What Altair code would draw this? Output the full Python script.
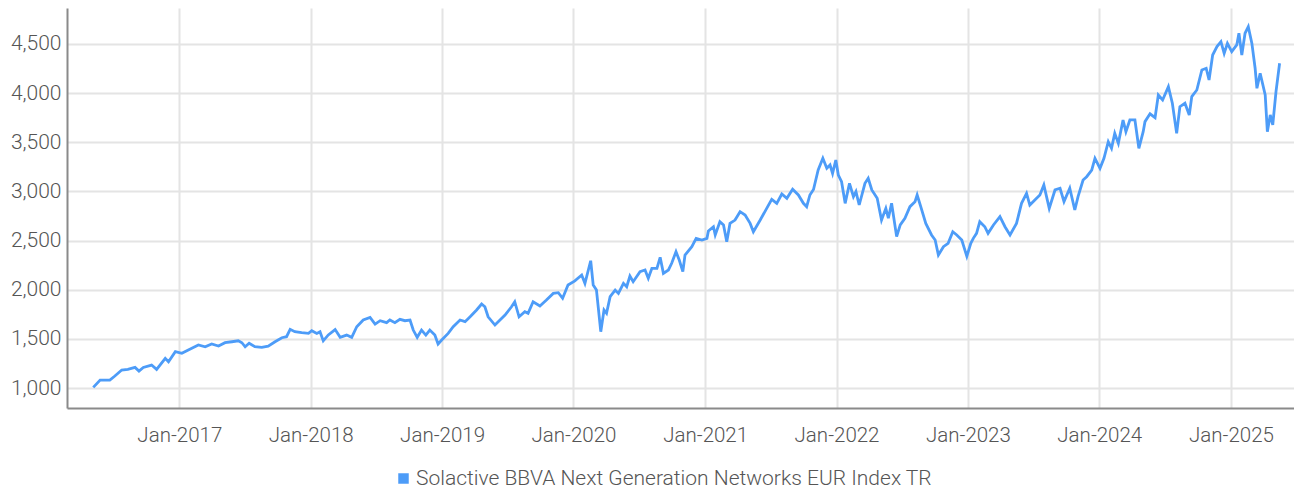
import altair as alt
import pandas as pd
from datetime import datetime, timedelta

SERIES = "Solactive BBVA Next Generation Networks EUR Index TR"

# time as decimal years
years = [
    2016.348, 2016.399, 2016.475, 2016.513, 2016.564, 2016.612, 2016.665, 2016.696, 2016.728, 2016.792,
    2016.830, 2016.894, 2016.919, 2016.970, 2017.021, 2017.071, 2017.147, 2017.198, 2017.249, 2017.299,
    2017.350, 2017.401, 2017.451, 2017.477, 2017.502, 2017.532, 2017.578, 2017.629, 2017.679, 2017.730,
    2017.781, 2017.819, 2017.844, 2017.882, 2017.933, 2017.984, 2018.009, 2018.047, 2018.073, 2018.098,
    2018.136, 2018.187, 2018.225, 2018.276, 2018.314, 2018.352, 2018.402, 2018.453, 2018.491, 2018.529,
    2018.580, 2018.605, 2018.643, 2018.681, 2018.719, 2018.757, 2018.782, 2018.813, 2018.846, 2018.879,
    2018.909, 2018.947, 2018.972, 2018.998, 2019.049, 2019.087, 2019.138, 2019.176, 2019.214, 2019.265,
    2019.303, 2019.328, 2019.353, 2019.404, 2019.442, 2019.480, 2019.531, 2019.556, 2019.589, 2019.632,
    2019.657, 2019.695, 2019.746, 2019.797, 2019.847, 2019.885, 2019.919, 2019.961, 2020.012, 2020.063,
    2020.088, 2020.132, 2020.152, 2020.177, 2020.208, 2020.233, 2020.253, 2020.279, 2020.317, 2020.342,
    2020.380, 2020.406, 2020.431, 2020.456, 2020.507, 2020.545, 2020.570, 2020.596, 2020.634, 2020.659,
    2020.684, 2020.722, 2020.748, 2020.781, 2020.806, 2020.832, 2020.849, 2020.900, 2020.933, 2020.976,
    2021.014, 2021.026, 2021.064, 2021.077, 2021.115, 2021.140, 2021.166, 2021.191, 2021.229, 2021.267,
    2021.306, 2021.344, 2021.369, 2021.420, 2021.471, 2021.509, 2021.547, 2021.585, 2021.623, 2021.668,
    2021.711, 2021.749, 2021.775, 2021.800, 2021.827, 2021.863, 2021.897, 2021.927, 2021.952, 2021.970,
    2021.996, 2022.015, 2022.041, 2022.066, 2022.099, 2022.129, 2022.150, 2022.175, 2022.218, 2022.243,
    2022.269, 2022.312, 2022.345, 2022.378, 2022.396, 2022.421, 2022.459, 2022.485, 2022.523, 2022.561,
    2022.599, 2022.616, 2022.642, 2022.682, 2022.726, 2022.751, 2022.776, 2022.814, 2022.852, 2022.885,
    2022.916, 2022.954, 2022.992, 2023.022, 2023.042, 2023.068, 2023.093, 2023.131, 2023.156, 2023.195,
    2023.245, 2023.283, 2023.321, 2023.372, 2023.410, 2023.448, 2023.473, 2023.512, 2023.550, 2023.580,
    2023.620, 2023.664, 2023.702, 2023.732, 2023.778, 2023.816, 2023.841, 2023.879, 2023.905, 2023.943,
    2023.968, 2024.006, 2024.036, 2024.069, 2024.095, 2024.120, 2024.145, 2024.183, 2024.204, 2024.234,
    2024.272, 2024.303, 2024.335, 2024.348, 2024.386, 2024.424, 2024.450, 2024.483, 2024.526, 2024.556,
    2024.589, 2024.614, 2024.653, 2024.685, 2024.703, 2024.742, 2024.780, 2024.812, 2024.835, 2024.863,
    2024.894, 2024.924, 2024.949, 2024.974, 2025.008, 2025.046, 2025.063, 2025.084, 2025.109, 2025.134,
    2025.160, 2025.185, 2025.198, 2025.223, 2025.261, 2025.279, 2025.299, 2025.320, 2025.345, 2025.370,
]

index_values = [
    1007, 1081, 1081, 1122, 1183, 1190, 1210, 1173, 1210, 1234,
    1190, 1302, 1268, 1370, 1353, 1387, 1438, 1420, 1448, 1427,
    1461, 1471, 1481, 1461, 1420, 1455, 1420, 1414, 1427, 1471,
    1512, 1522, 1597, 1573, 1563, 1556, 1583, 1556, 1573, 1480,
    1540, 1595, 1516, 1539, 1516, 1624, 1692, 1719, 1651, 1685,
    1665, 1692, 1665, 1699, 1685, 1692, 1590, 1516, 1590, 1539,
    1590, 1539, 1448, 1488, 1556, 1624, 1692, 1675, 1725, 1794,
    1855, 1827, 1725, 1641, 1692, 1743, 1827, 1878, 1725, 1776,
    1760, 1878, 1834, 1895, 1963, 1970, 1913, 2048, 2090, 2150,
    2065, 2295, 2048, 1997, 1573, 1794, 1760, 1929, 1997, 1963,
    2065, 2031, 2140, 2082, 2184, 2201, 2116, 2218, 2218, 2330,
    2167, 2201, 2269, 2387, 2302, 2184, 2353, 2438, 2523, 2506,
    2523, 2597, 2641, 2557, 2692, 2659, 2489, 2675, 2709, 2794,
    2760, 2675, 2590, 2709, 2828, 2920, 2879, 2974, 2930, 3022,
    2964, 2879, 2845, 2964, 3020, 3218, 3337, 3235, 3269, 3184,
    3320, 3167, 3099, 2879, 3083, 2947, 2998, 2862, 3083, 3134,
    3015, 2930, 2709, 2828, 2727, 2879, 2540, 2659, 2727, 2845,
    2896, 2964, 2845, 2675, 2557, 2506, 2353, 2438, 2472, 2590,
    2557, 2506, 2340, 2472, 2523, 2574, 2692, 2641, 2574, 2659,
    2743, 2641, 2557, 2675, 2879, 2981, 2862, 2913, 2964, 3066,
    2828, 3015, 3032, 2896, 3032, 2811, 2947, 3116, 3150, 3218,
    3337, 3235, 3337, 3506, 3439, 3591, 3489, 3727, 3608, 3727,
    3727, 3439, 3608, 3710, 3790, 3750, 3981, 3930, 4066, 3897,
    3591, 3862, 3897, 3778, 3964, 4032, 4236, 4253, 4134, 4388,
    4473, 4523, 4405, 4506, 4422, 4490, 4609, 4388, 4609, 4676,
    4506, 4253, 4049, 4202, 3981, 3608, 3778, 3676, 4015, 4304,
]

y_ticks = [1000, 1500, 2000, 2500, 3000, 3500, 4000, 4500]
x_tick_years = [2017, 2018, 2019, 2020, 2021, 2022, 2023, 2024, 2025]


def to_date(t):
    y = int(t)
    start = datetime(y, 1, 1)
    days = (datetime(y + 1, 1, 1) - start).days
    return (start + timedelta(days=(t - y) * days)).strftime("%Y-%m-%d")


df = pd.DataFrame({
    "date": [to_date(t) for t in years],
    "value": index_values,
    "series": SERIES,
})

FONT = "Roboto"
LINE_COLOR = "#4d9cf8"
TEXT_COLOR = "#555555"

chart = alt.Chart(df).mark_line(strokeWidth=2.8, color=LINE_COLOR).encode(
    x=alt.X(
        "date:T",
        title=None,
        scale=alt.Scale(domain=["2016-02-24", "2025-06-25"], nice=False),
        axis=alt.Axis(
            values=[alt.DateTime(year=y, month=1, date=1) for y in x_tick_years],
            format="%b-%Y",
            ticks=False,
            labelPadding=17,
            labelFontSize=20.5,
            labelFont=FONT,
            labelFontWeight=300,
            labelColor=TEXT_COLOR,
            domainColor="#8a8a8a",
            domainWidth=2,
            gridColor="#e4e4e4",
            gridWidth=2,
        ),
    ),
    y=alt.Y(
        "value:Q",
        title=None,
        scale=alt.Scale(domain=[797, 4866], nice=False, zero=False),
        axis=alt.Axis(
            values=y_ticks,
            format=",.0f",
            ticks=False,
            labelPadding=6,
            labelFontSize=21,
            labelFont=FONT,
            labelFontWeight=300,
            labelColor=TEXT_COLOR,
            domainColor="#8a8a8a",
            domainWidth=2,
            gridColor="#e4e4e4",
            gridWidth=2,
            minExtent=59,
            maxExtent=59,
        ),
    ),
    stroke=alt.Stroke(
        "series:N",
        scale=alt.Scale(range=[LINE_COLOR]),
        legend=alt.Legend(
            title=None,
            orient="none",
            legendX=326,
            legendY=460,
            symbolType="square",
            symbolSize=110,
            symbolFillColor=LINE_COLOR,
            symbolStrokeWidth=0,
            labelFontSize=21,
            labelFont=FONT,
            labelFontWeight=300,
            labelColor=TEXT_COLOR,
            labelOffset=2,
            labelLimit=800,
        ),
    ),
).properties(
    width=1227,
    height=400,
    padding={"left": 0, "top": 0, "right": 0, "bottom": 0},
).configure_view(stroke=None)

chart.save("out.html", embed_options={"renderer": "svg", "actions": False})
